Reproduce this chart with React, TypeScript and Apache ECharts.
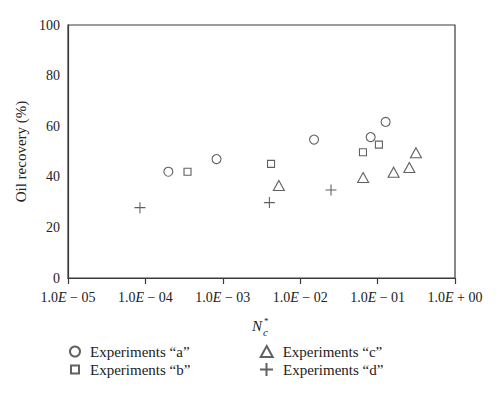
import React, { useEffect, useRef } from "react";
import * as echarts from "echarts";

const xTickLabels = ["1.0E − 05", "1.0E − 04", "1.0E − 03", "1.0E − 02", "1.0E − 01", "1.0E + 00"];
const seriesNames = ["Experiments “a”", "Experiments “b”", "Experiments “c”", "Experiments “d”"];
const expAx = [1.98e-4, 8.3e-4, 0.0151, 0.0814, 0.127];
const expAy = [42, 47, 54.7, 55.7, 61.7];
const expBx = [3.5e-4, 4.2e-3, 0.0647, 0.104];
const expBy = [42, 45.1, 49.7, 52.7];
const expCx = [5.3e-3, 0.065, 0.161, 0.257, 0.313];
const expCy = [36.6, 39.7, 41.8, 43.7, 49.5];
const expDx = [8.5e-5, 4.0e-3, 0.025];
const expDy = [27.8, 29.8, 34.8];

const FONT = "Liberation Serif";
const INK = "#3a3a3a";
const CROSS = "path://M0,5L10,5M5,0L5,10";

const zip = (xs: number[], ys: number[]) => xs.map((x, i) => [x, ys[i]]);

export default function App() {
  const ref = useRef<HTMLDivElement>(null);
  useEffect(() => {
    document.body.style.margin = "0";
    const chart = echarts.init(ref.current!, null, { renderer: "svg" });
    const mk = (name: string, data: number[][], symbol: string, size: any) => ({
      type: "scatter",
      name,
      data,
      symbol,
      symbolSize: size,
      itemStyle: { color: "rgba(0,0,0,0)", borderColor: INK, borderWidth: 1.1 },
      emphasis: { disabled: true },
    });
    const leg = (name: string, left: number, top: number, w: number, h: number, pad: number) => ({
      data: [name],
      left,
      top,
      itemWidth: w,
      itemHeight: h,
      selectedMode: false,
      padding: 0,
      textStyle: { fontFamily: FONT, fontSize: 15, color: "#222", padding: [0, 0, 0, pad] },
    });
    chart.setOption({
      animation: false,
      grid: { left: 68, right: 45, top: 25, bottom: 119, show: true, borderColor: INK, borderWidth: 1.2 },
      xAxis: {
        type: "log",
        logBase: 10,
        min: 1e-5,
        max: 1,
        axisLine: { show: true, lineStyle: { color: INK, width: 1.2 } },
        axisTick: { show: true, length: 6, lineStyle: { color: INK, width: 1.2 } },
        minorTick: { show: false },
        splitLine: { show: false },
        axisLabel: {
          margin: 12,
          fontFamily: FONT,
          fontSize: 14,
          color: "#222",
          formatter: (_v: number, i: number) => (xTickLabels[i] || "").replace("E", "{i|E}"),
          rich: { i: { fontStyle: "italic", fontFamily: FONT, fontSize: 14, color: "#222" } },
        },
      },
      yAxis: {
        type: "value",
        min: 0,
        max: 100,
        interval: 20,
        name: "Oil recovery (%)",
        nameLocation: "middle",
        nameGap: 35,
        nameTextStyle: { fontFamily: FONT, fontSize: 15, color: "#222" },
        axisLine: { show: true, lineStyle: { color: INK, width: 1.2 } },
        axisTick: { show: false },
        splitLine: { show: false },
        axisLabel: { margin: 8, fontFamily: FONT, fontSize: 14, color: "#222" },
      },
      legend: [
        leg(seriesNames[0], 69, 344, 10, 10, 5),
        leg(seriesNames[1], 70, 362, 8, 8, 6),
        leg(seriesNames[2], 259.7, 344, 12, 11, 5),
        leg(seriesNames[3], 259, 362, 13, 13, 5),
      ],
      graphic: [
        {
          type: "group",
          left: 252,
          top: 316,
          children: [
            { type: "text", x: 0, y: 2, style: { text: "N", font: `italic 15px '${FONT}'`, fill: "#222" } },
            { type: "text", x: 11, y: 10, style: { text: "c", font: `italic 11px '${FONT}'`, fill: "#222" } },
            { type: "text", x: 12, y: 0, style: { text: "*", font: `9px '${FONT}'`, fill: "#222" } },
          ],
        },
      ],
      series: [
        mk(seriesNames[0], zip(expAx, expAy), "circle", 9),
        mk(seriesNames[1], zip(expBx, expBy), "rect", 7),
        mk(seriesNames[2], zip(expCx, expCy), "triangle", [11, 10]),
        mk(seriesNames[3], zip(expDx, expDy), CROSS, 11),
      ],
    });
    return () => chart.dispose();
  }, []);
  return <div ref={ref} style={{ width: 500, height: 397 }} />;
}
